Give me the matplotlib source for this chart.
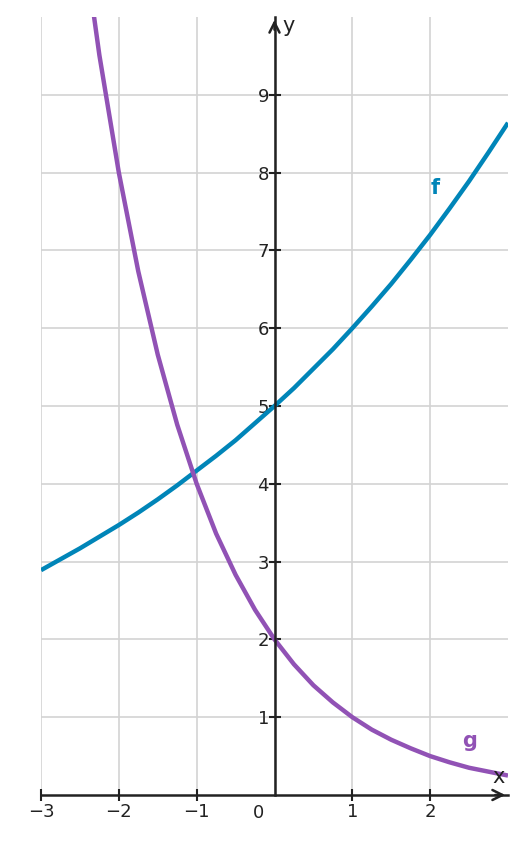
import matplotlib.pyplot as plt

# values
xs_f = [-3, -2.75, -2.5, -2.25, -2, -1.75, -1.5, -1.25, -1, -0.75, -0.5, -0.25,
        0, 0.25, 0.5, 0.75, 1, 1.25, 1.5, 1.75, 2, 2.25, 2.5, 2.75, 3]
ys_f = [2.89, 3.03, 3.17, 3.32, 3.47, 3.63, 3.80, 3.98, 4.17, 4.36, 4.56, 4.78,
        5.0, 5.23, 5.48, 5.73, 6.0, 6.28, 6.57, 6.88, 7.2, 7.54, 7.89, 8.26, 8.64]
xs_g = [-2.5, -2.25, -2, -1.75, -1.5, -1.25, -1, -0.75, -0.5, -0.25,
        0, 0.25, 0.5, 0.75, 1, 1.25, 1.5, 1.75, 2, 2.25, 2.5, 2.75, 3]
ys_g = [11.31, 9.51, 8.0, 6.73, 5.66, 4.76, 4.0, 3.36, 2.83, 2.38,
        2.0, 1.68, 1.41, 1.19, 1.0, 0.84, 0.71, 0.60, 0.5, 0.42, 0.35, 0.30, 0.25]
xticks = [-3, -2, -1, 1, 2]
yticks = [1, 2, 3, 4, 5, 6, 7, 8, 9]

blue = '#0085b8'
purple = '#9152b5'
axc = '#222222'

fig = plt.figure(figsize=(5.26, 8.43), dpi=100)
ax = fig.add_axes([41/526, 1-795/843, 467/526, 778/843])

ax.plot(xs_f, ys_f, color=blue, lw=3.2, solid_capstyle='butt')
ax.plot(xs_g, ys_g, color=purple, lw=3.2, solid_capstyle='butt')
ax.set_xlim(-3, 3)
ax.set_ylim(0, 10)

for v in range(-3, 3):
    ax.axvline(v, color='#d3d3d3', lw=1.2, zorder=0)
for v in range(1, 10):
    ax.axhline(v, color='#d3d3d3', lw=1.2, zorder=0)

for s in ['top', 'right']:
    ax.spines[s].set_visible(False)
ax.spines['left'].set_position(('data', 0))
ax.spines['bottom'].set_position(('data', 0))
for s in ['left', 'bottom']:
    ax.spines[s].set_color(axc)
    ax.spines[s].set_linewidth(1.8)
ax.set_xticks(xticks)
ax.set_yticks(yticks)
ax.tick_params(axis='both', direction='inout', length=8, width=1.5, color=axc,
               labelsize=13, labelcolor=axc)
ax.tick_params(axis='x', pad=2)
ax.tick_params(axis='y', pad=0)
ax.text(-0.2, -0.12, '0', fontsize=13, color=axc, ha='center', va='top')

# arrows
ax.annotate('', xy=(3.0, 0), xytext=(2.8, 0), annotation_clip=False,
            arrowprops=dict(arrowstyle='->', color=axc, lw=1.8, mutation_scale=18))
ax.annotate('', xy=(0, 10), xytext=(0, 9.8), annotation_clip=False,
            arrowprops=dict(arrowstyle='->', color=axc, lw=1.8, mutation_scale=18))
ax.text(0.1, 9.75, 'y', fontsize=15, color=axc, ha='left', va='bottom')
ax.text(2.88, 0.1, 'x', fontsize=15, color=axc, ha='center', va='bottom')

ax.text(2.07, 7.8, 'f', fontsize=15, color=blue, fontweight='bold', ha='center', va='center')
ax.text(2.5, 0.7, 'g', fontsize=15, color=purple, fontweight='bold', ha='center', va='center')

fig.savefig('out.png', dpi=100)
